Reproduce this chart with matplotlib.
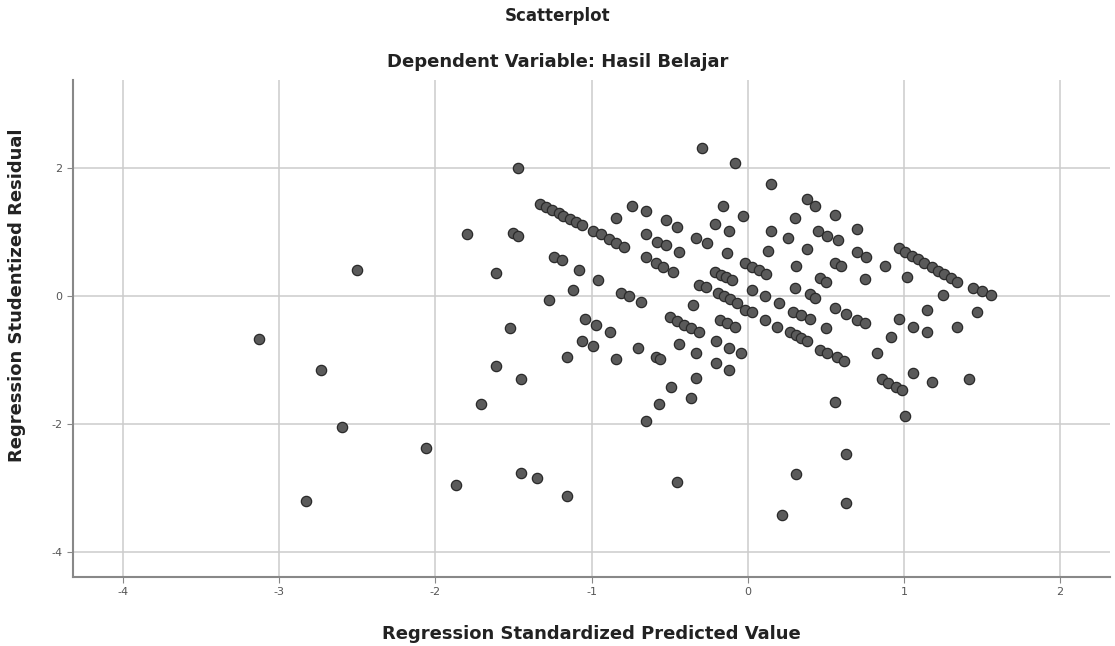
import matplotlib
matplotlib.use("Agg")
import matplotlib.pyplot as plt

# ---- Data: standardized predicted value vs studentized residual ----
pred = [
    -3.13, -2.83, -2.73, -2.60, -2.50, -2.06, -1.87, -1.80, -1.71, -1.61,
    -1.61, -1.52, -1.50, -1.47, -1.47, -1.45, -1.45, -1.35, -1.27, -1.24,
    -1.19, -1.08, -0.96, -1.12, -1.04, -0.97, -0.88, -0.74, -0.65, -0.84,
    -0.52, -0.45, -0.65, -0.58, -0.52, -0.44, -0.81, -0.76, -0.68, -0.29,
    -0.08, -0.16, -0.03, -0.21, -0.12, -0.33, -0.26, -0.13, -0.31, -0.27,
    0.03, -0.02, 0.03, -0.35, -1.06, -0.99, -1.16, -0.84, -0.70, -0.59,
    -0.56, -0.44, -0.33, -0.20, -0.12, -0.04, -0.20, -0.12, -0.33, -0.49,
    -0.36, -0.57, -0.65, -1.16, -0.45, 0.15, 0.38, 0.43, 0.30, 0.56,
    0.15, 0.26, 0.70, 0.13, 0.38, 0.70, 0.76, 0.88, 1.02, 1.25,
    1.15, 1.47, 0.97, 1.06, 1.15, 1.34, 0.31, 0.56, 0.60, 0.46,
    0.50, 0.75, 0.30, 0.11, 0.20, 0.40, 0.43, 0.11, 0.19, 0.56,
    0.63, 0.70, 0.75, 0.50, 0.92, 0.83, 1.06, 1.18, 1.42, 0.56,
    1.01, 0.63, 0.31, 0.63, 0.22,
    # diagonal runs
    -1.33, -1.29, -1.25, -1.21, -1.18, -1.14, -1.10, -1.06,
    -0.99, -0.94, -0.89, -0.84, -0.79,
    -0.65, -0.59, -0.54, -0.48,
    -0.50, -0.45, -0.41, -0.36, -0.31,
    -0.18, -0.13, -0.08,
    -0.21, -0.17, -0.14, -0.10,
    -0.19, -0.15, -0.11, -0.07,
    -0.02, 0.03, 0.07, 0.12,
    0.97, 1.01, 1.05, 1.09, 1.13, 1.18, 1.22, 1.26, 1.30, 1.34,
    1.44, 1.50, 1.56,
    0.29, 0.34, 0.40,
    0.27, 0.31, 0.34, 0.38,
    0.46, 0.51, 0.57, 0.62,
    0.86, 0.90, 0.95, 0.99,
    0.45, 0.51, 0.58,
]
resid = [
    -0.67, -3.21, -1.16, -2.05, 0.40, -2.37, -2.96, 0.96, -1.69, 0.36,
    -1.10, -0.50, 0.98, 0.93, 2.00, -1.30, -2.76, -2.85, -0.06, 0.60,
    0.56, 0.40, 0.25, 0.09, -0.36, -0.45, -0.56, 1.41, 1.33, 1.21,
    1.18, 1.07, 0.96, 0.84, 0.79, 0.68, 0.05, 0.00, -0.09, 2.31,
    2.08, 1.41, 1.24, 1.12, 1.02, 0.91, 0.82, 0.67, 0.17, 0.14,
    0.09, -0.22, -0.26, -0.14, -0.71, -0.79, -0.95, -0.98, -0.81, -0.95,
    -0.98, -0.76, -0.90, -0.70, -0.81, -0.90, -1.05, -1.16, -1.29, -1.43,
    -1.60, -1.69, -1.95, -3.12, -2.91, 1.75, 1.52, 1.40, 1.21, 1.26,
    1.02, 0.90, 1.05, 0.70, 0.73, 0.68, 0.60, 0.47, 0.29, 0.02,
    -0.22, -0.26, -0.36, -0.48, -0.57, -0.48, 0.47, 0.51, 0.47, 0.28,
    0.22, 0.26, 0.12, 0.00, -0.11, 0.03, -0.03, -0.37, -0.48, -0.19,
    -0.29, -0.37, -0.43, -0.50, -0.64, -0.89, -1.20, -1.35, -1.30, -1.66,
    -1.88, -2.47, -2.79, -3.24, -3.43,
    # diagonal runs
    1.44, 1.39, 1.34, 1.29, 1.25, 1.20, 1.15, 1.10,
    1.02, 0.96, 0.89, 0.83, 0.76,
    0.60, 0.52, 0.45, 0.37,
    -0.33, -0.39, -0.45, -0.50, -0.56,
    -0.37, -0.42, -0.48,
    0.37, 0.33, 0.29, 0.25,
    0.05, 0.00, -0.05, -0.11,
    0.51, 0.45, 0.40, 0.34,
    0.74, 0.68, 0.62, 0.57, 0.51, 0.45, 0.39, 0.34, 0.28, 0.22,
    0.12, 0.07, 0.02,
    -0.25, -0.30, -0.36,
    -0.56, -0.61, -0.66, -0.71,
    -0.84, -0.90, -0.96, -1.02,
    -1.30, -1.36, -1.42, -1.47,
    1.01, 0.94, 0.87,
]

x_ticks = [-4, -3, -2, -1, 0, 1, 2]
y_ticks = [-4, -2, 0, 2]

plt.rcParams["font.family"] = ["DejaVu Sans"]
plt.rcParams["axes.unicode_minus"] = False

fig = plt.figure(figsize=(11.15, 6.46), dpi=100)
ax = fig.add_axes([0.0655, 0.107, 0.93, 0.769])

ax.scatter(pred, resid, s=55, facecolor="#5a5a5a", edgecolor="#2a2a2a",
           linewidth=0.9, zorder=3)

ax.set_xlim(-4.32, 2.32)
ax.set_ylim(-4.39, 3.37)
ax.set_xticks(x_ticks)
ax.set_yticks(y_ticks)
ax.grid(True, color="#cccccc", linewidth=1.1, zorder=0)

for side in ["top", "right"]:
    ax.spines[side].set_visible(False)
for side in ["left", "bottom"]:
    ax.spines[side].set_color("#888888")
    ax.spines[side].set_linewidth(1.5)
ax.tick_params(colors="#888888", labelcolor="#555555", labelsize=8, length=4)

ax.set_xlabel("Regression Standardized Predicted Value", fontsize=13,
              fontweight="bold", color="#222222", labelpad=20)
ax.set_ylabel("Regression Studentized Residual", fontsize=13,
              fontweight="bold", color="#222222")
ax.yaxis.set_label_coords(-0.045, 0.567)

fig.text(0.5, 0.975, "Scatterplot", ha="center", va="center", fontsize=12,
         fontweight="bold", color="#222222")
fig.text(0.5, 0.904, "Dependent Variable: Hasil Belajar", ha="center",
         va="center", fontsize=13, fontweight="bold", color="#222222")

plt.savefig("out.png", dpi=100)
